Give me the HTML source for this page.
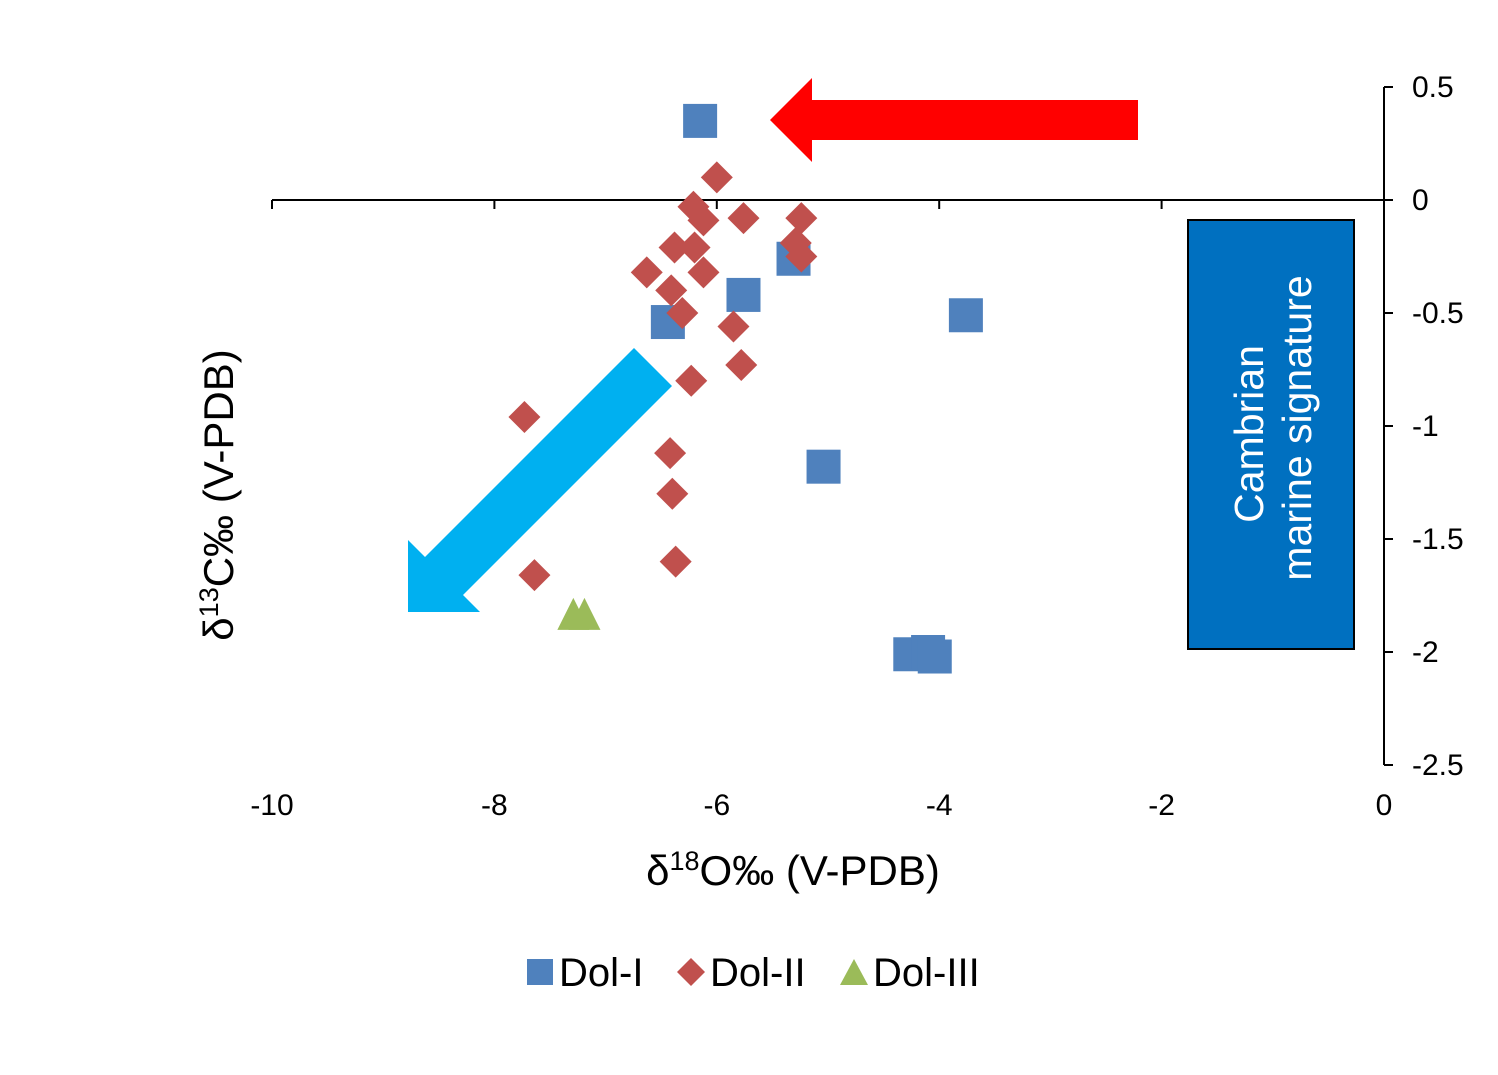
<!DOCTYPE html>
<html><head><meta charset="utf-8"><style>
body{margin:0;background:#fff}
svg{display:block;font-family:"Liberation Sans",Arial,sans-serif}
</style></head><body>
<svg id="chart" width="1498" height="1075" viewBox="0 0 1498 1075">
<rect width="1498" height="1075" fill="#fff"/>
<g id="axes"></g>
<polygon points="1138,100 812,100 812,78 770,120 812,162 812,140 1138,140" fill="#ff0000"/>
<polygon points="634,348 672,386 463,595 480,612 408,612 408,540 425,557" fill="#00b0f0"/>
<g>
<rect x="1188" y="220" width="166" height="429" fill="#0070c0" stroke="#000" stroke-width="2"/>
<text transform="translate(1263,434) rotate(-90)" text-anchor="middle" font-size="41" fill="#fff">Cambrian</text>
<text transform="translate(1311,428) rotate(-90)" text-anchor="middle" font-size="41" fill="#fff">marine signature</text>
</g>
<g id="points"></g>
<text x="793" y="885" text-anchor="middle" font-size="42" fill="#000">δ<tspan font-size="27" dy="-15">18</tspan><tspan dy="15">O‰ (V-PDB)</tspan></text>
<text transform="translate(233,495) rotate(-90)" text-anchor="middle" font-size="42" fill="#000">δ<tspan font-size="27" dy="-15">13</tspan><tspan dy="15">C‰ (V-PDB)</tspan></text>
<g>
<g><rect x="527" y="959" width="26" height="26" fill="#4f81bd"/><text x="559" y="986" font-size="40">Dol-I</text></g>
<g><polygon points="691,958 705,972 691,986 677,972" fill="#c0504d"/><text x="710" y="986" font-size="40">Dol-II</text></g>
<g><polygon points="854,959 868,985 840,985" fill="#9bbb59"/><text x="873" y="986" font-size="40">Dol-III</text></g>
</g>
</svg>
<script>
const xTicks=[-10,-8,-6,-4,-2,0];
const yTicks=[0.5,0,-0.5,-1,-1.5,-2,-2.5];
const dol1X=[-6.15,-5.31,-5.76,-6.44,-3.76,-5.04,-4.26,-4.10,-4.04];
const dol1Y=[0.35,-0.26,-0.42,-0.54,-0.51,-1.18,-2.01,-2.0,-2.02];
const dol2X=[-6.0,-6.21,-6.12,-5.76,-5.24,-5.29,-5.24,-6.38,-6.2,-6.12,-6.63,-6.41,-6.31,-5.85,-5.78,-6.23,-7.73,-6.42,-6.40,-6.37,-7.64];
const dol2Y=[0.10,-0.03,-0.09,-0.08,-0.08,-0.19,-0.25,-0.21,-0.21,-0.32,-0.32,-0.40,-0.50,-0.56,-0.73,-0.80,-0.96,-1.12,-1.30,-1.60,-1.66];
const dol3X=[-7.29,-7.19];
const dol3Y=[-1.84,-1.84];
const NS="http://www.w3.org/2000/svg";
function sx(v){return 272+(v+10)*111.2;}
function sy(v){return 200-v*226;}
function mk(tag,attrs,parent){const e=document.createElementNS(NS,tag);for(const k in attrs)e.setAttribute(k,attrs[k]);parent.appendChild(e);return e;}
const ax=document.getElementById('axes');
let l=mk('line',{x1:sx(-10),x2:sx(0),y1:sy(0),y2:sy(0),stroke:'#000','stroke-width':2},ax);


l=mk('line',{x1:sx(0),x2:sx(0),y1:sy(0.5),y2:sy(-2.5),stroke:'#000','stroke-width':2},ax);


xTicks.forEach(t=>{
 if(t<0){const k=mk('line',{x1:sx(t),x2:sx(t),y1:sy(0),y2:sy(0)+9,stroke:'#000','stroke-width':2},ax);
 
 }
 const tx=mk('text',{x:sx(t),y:815,'text-anchor':'middle','font-size':30},ax);tx.textContent=t;
 
 
});
yTicks.forEach(t=>{
 const k=mk('line',{x1:sx(0),x2:sx(0)+9,y1:sy(t),y2:sy(t),stroke:'#000','stroke-width':2},ax);
 
 
 const tx=mk('text',{x:1412,y:sy(t)+10,'font-size':30},ax);tx.textContent=t;
 
 
});
const pg=document.getElementById('points');
dol1X.forEach((x,i)=>{const cx=sx(x),cy=sy(dol1Y[i]);
 const e=mk('rect',{x:cx-17,y:cy-17,width:34,height:34,fill:'#4f81bd'},pg);
 
 });
dol2X.forEach((x,i)=>{const cx=sx(x),cy=sy(dol2Y[i]);
 const e=mk('polygon',{points:`${cx},${cy-16} ${cx+16},${cy} ${cx},${cy+16} ${cx-16},${cy}`,fill:'#c0504d'},pg);
 
 });
dol3X.forEach((x,i)=>{const cx=sx(x),cy=sy(dol3Y[i]);
 const e=mk('polygon',{points:`${cx},${cy-18} ${cx+16},${cy+14} ${cx-16},${cy+14}`,fill:'#9bbb59'},pg);
 
 });
</script>
</body></html>
